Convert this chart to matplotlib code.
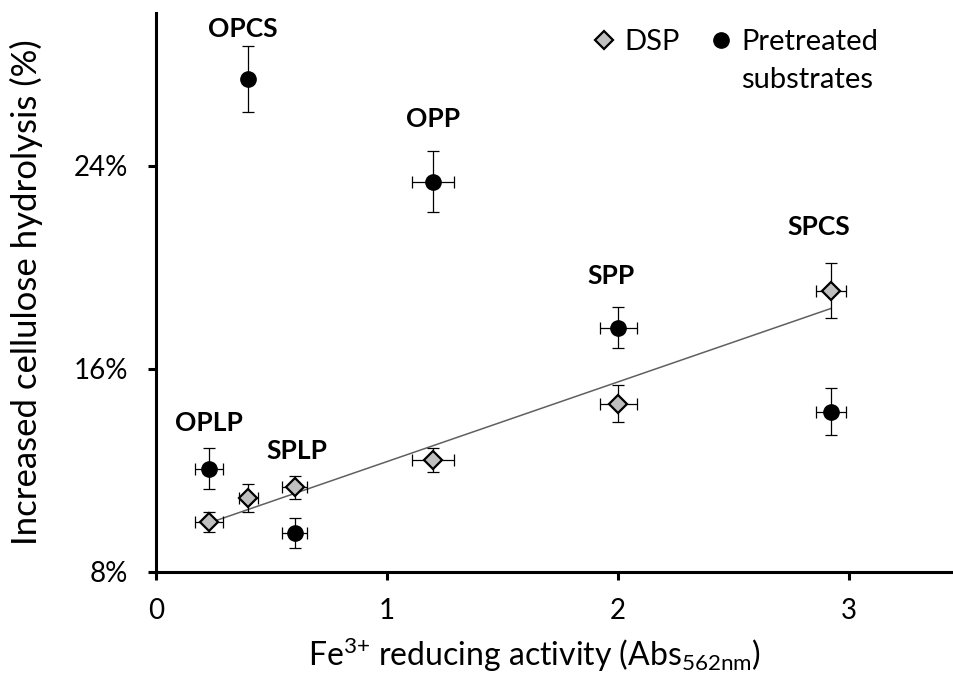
"""Cellulose hydrolysis vs Fe3+ reducing activity."""
import matplotlib
matplotlib.use("Agg")
import matplotlib.pyplot as plt
import numpy as np

# DSP (grey diamonds)
dsp_x = [0.23, 0.40, 0.60, 1.20, 2.00, 2.92]
dsp_y = [9.95, 10.90, 11.32, 12.41, 14.62, 19.07]
dsp_xerr = [0.06, 0.04, 0.055, 0.09, 0.08, 0.065]
dsp_yerr = [0.40, 0.55, 0.45, 0.48, 0.72, 1.08]

# pretreated substrates (black circles)
pre_x = [0.23, 0.40, 0.60, 1.20, 2.00, 2.92]
pre_y = [12.06, 27.43, 9.52, 23.37, 17.62, 14.30]
pre_xerr = [0.06, 0.0, 0.055, 0.09, 0.08, 0.065]
pre_yerr = [0.80, 1.30, 0.60, 1.20, 0.80, 0.92]

substrates = ["OPLP", "OPCS", "SPLP", "OPP", "SPP", "SPCS"]
label_pos = [(0.23, 13.87), (0.375, 29.4), (0.61, 12.74),
             (1.20, 25.83), (1.97, 19.66), (2.87, 21.58)]

yticks = [8, 16, 24]
xticks = [0, 1, 2, 3]

plt.rcParams["font.family"] = ["Lato", "DejaVu Sans"]
plt.rcParams["mathtext.default"] = "regular"

fig = plt.figure(figsize=(9.54, 6.77), dpi=100)
ax = fig.add_axes([156 / 954, 1 - 571.7 / 677, (953 - 156) / 954, (571.7 - 13.3) / 677])

# linear trend of the DSP points
slope, icpt = np.polyfit(dsp_x, dsp_y, 1)
xs = np.array([min(dsp_x), max(dsp_x)])
ax.plot(xs, slope * xs + icpt, color="#606060", lw=1.1, zorder=2)

err_kw = dict(ecolor="black", elinewidth=0.9, capsize=4, capthick=0.9, zorder=3)
ax.errorbar(dsp_x, dsp_y, xerr=dsp_xerr, yerr=dsp_yerr, fmt="none", **err_kw)
ax.errorbar(pre_x, pre_y, xerr=pre_xerr, yerr=pre_yerr, fmt="none", **err_kw)
ax.plot(dsp_x, dsp_y, ls="none", marker="D", ms=9.5, mfc="#bfbfbf", mec="black",
        mew=1.6, zorder=4, label="DSP")
ax.plot(pre_x, pre_y, ls="none", marker="o", ms=11, mfc="black", mec="black",
        zorder=4, label="Pretreated")

for name, (lx, ly) in zip(substrates, label_pos):
    ax.text(lx, ly, name, ha="center", va="center", fontsize=19, fontweight="bold")

ax.set_xlim(0, 3.45)
ax.set_ylim(8, 30)
ax.set_xticks(xticks)
ax.set_yticks(yticks)
ax.set_yticklabels([f"{t}%" for t in yticks])
for s in ["top", "right"]:
    ax.spines[s].set_visible(False)
for s in ["left", "bottom"]:
    ax.spines[s].set_linewidth(2.2)
ax.tick_params(direction="out", length=6, width=2.2, labelsize=20)
ax.tick_params(axis="x", pad=13)
ax.tick_params(axis="y", pad=14)

ax.set_xlabel("Fe$^{3{+}}$ reducing activity (Abs$_{562nm}$)", fontsize=23, va="center")
ax.xaxis.set_label_coords(0.4755, -0.149)
ax.set_ylabel("Increased cellulose hydrolysis (%)", fontsize=25, va="center")
ax.yaxis.set_label_coords(-0.163, 0.5)

leg = ax.legend(loc="upper right", bbox_to_anchor=(0.906, 0.971), ncol=2, frameon=False,
                fontsize=21, handletextpad=0.2, columnspacing=0.9, handlelength=1.0,
                borderpad=0, borderaxespad=0)
fig.canvas.draw()
bb = leg.get_texts()[1].get_window_extent().transformed(fig.transFigure.inverted())
fig.text(bb.x0, bb.y0 - 38 / 677, "substrates", fontsize=21, ha="left", va="bottom")

fig.savefig("out.png", dpi=100)
